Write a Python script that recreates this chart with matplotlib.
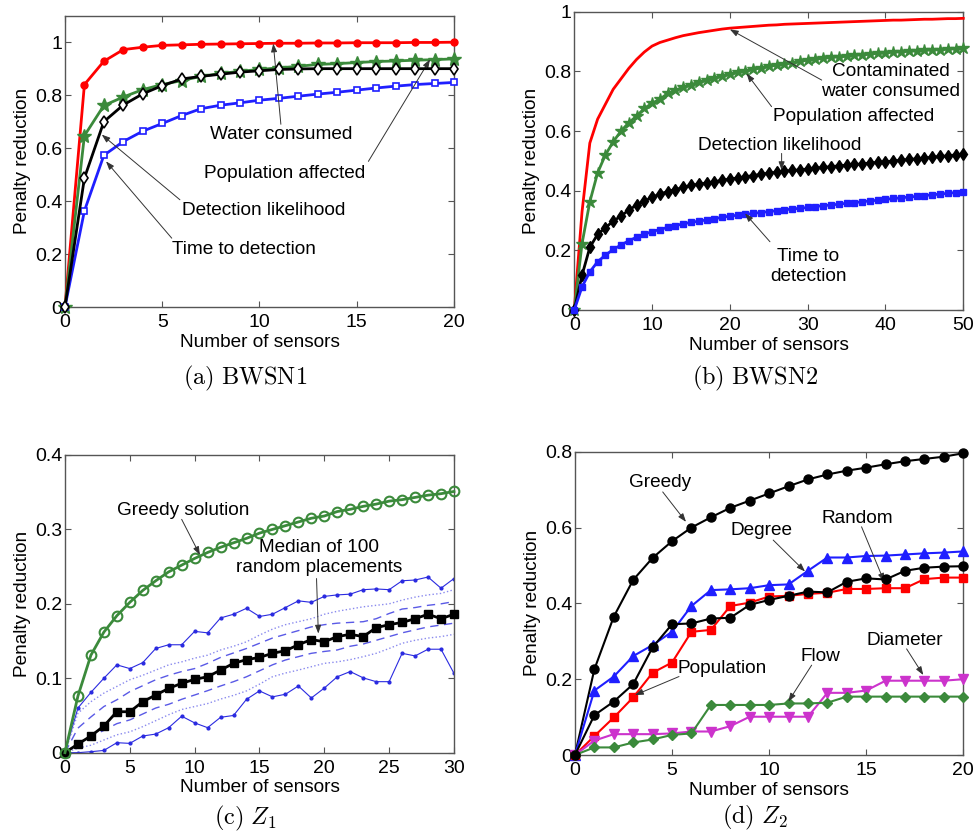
import matplotlib
matplotlib.use('Agg')
import matplotlib.pyplot as plt
import numpy as np

plt.rcParams['font.family'] = ['Liberation Sans', 'DejaVu Sans']
plt.rcParams['mathtext.fontset'] = 'cm'

# ---------------- Data ----------------
# (a) BWSN1
a_x = list(range(21))
a_water = [0, 0.84, 0.928, 0.972, 0.981, 0.988, 0.99, 0.992, 0.993, 0.994, 0.995,
           0.996, 0.996, 0.997, 0.997, 0.998, 0.998, 0.998, 0.999, 0.999, 1.0]
a_pop = [0, 0.647, 0.761, 0.793, 0.821, 0.84, 0.855, 0.871, 0.882, 0.89, 0.897,
         0.903, 0.909, 0.916, 0.919, 0.923, 0.927, 0.929, 0.932, 0.934, 0.937]
a_det = [0, 0.487, 0.70, 0.763, 0.805, 0.836, 0.861, 0.871, 0.879, 0.887, 0.892,
         0.897, 0.899, 0.9, 0.9, 0.9, 0.9, 0.9, 0.9, 0.9, 0.9]
a_time = [0, 0.363, 0.573, 0.625, 0.664, 0.693, 0.723, 0.749, 0.762, 0.771, 0.781,
          0.788, 0.796, 0.804, 0.811, 0.819, 0.827, 0.834, 0.84, 0.844, 0.848]

# (b) BWSN2
b_x = list(range(51))
b_water = [0, 0.33, 0.56, 0.64, 0.69, 0.74, 0.775, 0.81, 0.84, 0.865, 0.885,
           0.897, 0.905, 0.913, 0.92, 0.925, 0.93, 0.934, 0.938, 0.942, 0.945,
           0.947, 0.949, 0.951, 0.953, 0.955, 0.956, 0.958, 0.959, 0.96, 0.961,
           0.962, 0.963, 0.964, 0.965, 0.966, 0.967, 0.968, 0.969, 0.97, 0.971,
           0.972, 0.972, 0.973, 0.974, 0.975, 0.975, 0.976, 0.977, 0.977, 0.978]
b_pop = [0, 0.223, 0.363, 0.46, 0.52, 0.564, 0.6, 0.628, 0.65, 0.676, 0.693,
         0.707, 0.726, 0.737, 0.747, 0.756, 0.764, 0.771, 0.778, 0.785, 0.791,
         0.797, 0.802, 0.807, 0.812, 0.817, 0.821, 0.825, 0.829, 0.834, 0.838,
         0.841, 0.844, 0.847, 0.849, 0.851, 0.854, 0.856, 0.858, 0.861, 0.863,
         0.865, 0.866, 0.868, 0.869, 0.871, 0.872, 0.873, 0.875, 0.876, 0.877]
b_det = [0, 0.117, 0.21, 0.254, 0.276, 0.298, 0.315, 0.335, 0.352, 0.365, 0.378,
         0.389, 0.397, 0.404, 0.411, 0.418, 0.422, 0.426, 0.43, 0.435, 0.439,
         0.443, 0.447, 0.451, 0.455, 0.459, 0.462, 0.465, 0.468, 0.47, 0.473,
         0.476, 0.478, 0.481, 0.483, 0.486, 0.488, 0.49, 0.493, 0.495, 0.497,
         0.5, 0.502, 0.505, 0.507, 0.51, 0.512, 0.515, 0.517, 0.52, 0.523]
b_time = [0, 0.078, 0.128, 0.162, 0.184, 0.203, 0.218, 0.232, 0.244, 0.254, 0.263,
          0.27, 0.277, 0.283, 0.289, 0.294, 0.298, 0.302, 0.306, 0.311, 0.315,
          0.318, 0.321, 0.324, 0.327, 0.33, 0.333, 0.336, 0.339, 0.341, 0.344,
          0.347, 0.35, 0.352, 0.355, 0.358, 0.36, 0.363, 0.366, 0.368, 0.371,
          0.374, 0.376, 0.379, 0.381, 0.384, 0.386, 0.389, 0.391, 0.394, 0.397]

# (c) Z1
c_x = list(range(31))
c_greedy = [0, 0.0761, 0.131, 0.162, 0.184, 0.202, 0.218, 0.231, 0.243, 0.252, 0.261,
            0.269, 0.276, 0.282, 0.288, 0.295, 0.3, 0.305, 0.31, 0.315, 0.318,
            0.324, 0.327, 0.331, 0.334, 0.338, 0.34, 0.343, 0.346, 0.348, 0.351]
c_median = [0, 0.0116, 0.0224, 0.0358, 0.055, 0.055, 0.0685, 0.0775, 0.0864, 0.0932, 0.0985,
            0.102, 0.111, 0.12, 0.125, 0.128, 0.1335, 0.137, 0.145, 0.152, 0.149,
            0.156, 0.159, 0.156, 0.168, 0.172, 0.175, 0.18, 0.186, 0.18, 0.186]
c_max = [0, 0.06, 0.081, 0.1, 0.118, 0.113, 0.121, 0.14, 0.145, 0.145, 0.163,
         0.161, 0.181, 0.186, 0.194, 0.183, 0.186, 0.195, 0.204, 0.202, 0.21,
         0.212, 0.213, 0.219, 0.22, 0.219, 0.231, 0.232, 0.236, 0.221, 0.234]
c_min = [0, 0.0, 0.0013, 0.003, 0.0134, 0.0125, 0.0224, 0.025, 0.0336, 0.049, 0.04,
         0.0336, 0.0475, 0.05, 0.0717, 0.083, 0.075, 0.0785, 0.0896, 0.0735, 0.0868,
         0.102, 0.109, 0.1005, 0.0954, 0.0954, 0.1335, 0.13, 0.139, 0.139, 0.1066]
c_dash_hi = [0, 0.033, 0.048, 0.062, 0.071, 0.082, 0.09, 0.098, 0.104, 0.109, 0.113,
             0.12, 0.128, 0.134, 0.14, 0.147, 0.154, 0.159, 0.164, 0.169, 0.172,
             0.174, 0.175, 0.176, 0.18, 0.187, 0.193, 0.195, 0.198, 0.2, 0.203]
c_dot_hi = [0, 0.053, 0.0685, 0.08, 0.089, 0.098, 0.104, 0.111, 0.118, 0.122, 0.127,
            0.131, 0.138, 0.143, 0.149, 0.158, 0.166, 0.172, 0.176, 0.18, 0.186,
            0.19, 0.193, 0.196, 0.198, 0.2, 0.205, 0.209, 0.212, 0.214, 0.219]
c_dash_lo = [0, 0.0125, 0.0215, 0.03, 0.039, 0.044, 0.052, 0.06, 0.065, 0.0717, 0.0775,
             0.0833, 0.0896, 0.0954, 0.102, 0.11, 0.118, 0.1245, 0.129, 0.1335, 0.136,
             0.138, 0.143, 0.146, 0.151, 0.156, 0.161, 0.165, 0.169, 0.1715, 0.174]
c_dot_lo = [0, 0.006, 0.01, 0.017, 0.024, 0.028, 0.035, 0.043, 0.051, 0.058, 0.062,
            0.066, 0.072, 0.077, 0.083, 0.092, 0.102, 0.107, 0.111, 0.1155, 0.12,
            0.122, 0.125, 0.129, 0.1335, 0.14, 0.147, 0.151, 0.154, 0.156, 0.159]

# (d) Z2
d_x = list(range(21))
d_greedy = [0, 0.226, 0.365, 0.462, 0.52, 0.564, 0.6, 0.627, 0.652, 0.671, 0.69,
            0.709, 0.727, 0.74, 0.75, 0.758, 0.767, 0.775, 0.781, 0.787, 0.796]
d_degree = [0, 0.17, 0.207, 0.261, 0.29, 0.325, 0.393, 0.435, 0.437, 0.44, 0.448,
            0.45, 0.486, 0.521, 0.521, 0.525, 0.526, 0.529, 0.532, 0.534, 0.537]
d_random = [0, 0.105, 0.141, 0.187, 0.284, 0.345, 0.347, 0.36, 0.362, 0.396, 0.409,
            0.42, 0.431, 0.429, 0.457, 0.466, 0.463, 0.486, 0.494, 0.497, 0.498]
d_population = [0, 0.05, 0.099, 0.152, 0.217, 0.244, 0.325, 0.33, 0.393, 0.402, 0.418,
                0.42, 0.425, 0.428, 0.438, 0.438, 0.44, 0.44, 0.464, 0.468, 0.468]
d_flow = [0, 0.02, 0.02, 0.033, 0.041, 0.053, 0.057, 0.132, 0.132, 0.132, 0.132,
          0.136, 0.136, 0.138, 0.154, 0.154, 0.154, 0.154, 0.154, 0.154, 0.154]
d_diameter = [0, 0.038, 0.055, 0.055, 0.055, 0.057, 0.062, 0.062, 0.076, 0.101, 0.101,
              0.101, 0.101, 0.164, 0.164, 0.17, 0.196, 0.196, 0.196, 0.196, 0.2]

# tick labels
a_yticks = [0, 0.2, 0.4, 0.6, 0.8, 1.0]
a_yticklabels = ['0', '0.2', '0.4', '0.6', '0.8', '1']
a_xticks = [0, 5, 10, 15, 20]
b_xticks = [0, 10, 20, 30, 40, 50]
c_xticks = [0, 5, 10, 15, 20, 25, 30]
c_yticks = [0, 0.1, 0.2, 0.3, 0.4]
c_yticklabels = ['0', '0.1', '0.2', '0.3', '0.4']
d_yticks = [0, 0.2, 0.4, 0.6, 0.8]
d_yticklabels = ['0', '0.2', '0.4', '0.6', '0.8']

GREEN = '#3b8a3b'
SPINE = '#555555'
FS = 13.7
TFS = 14

fig = plt.figure(figsize=(9.74, 8.35), dpi=100)
axa = fig.add_axes([0.0667, 0.6323, 0.3994, 0.3489])
axb = fig.add_axes([0.5896, 0.6287, 0.3994, 0.3572])
axc = fig.add_axes([0.0667, 0.0986, 0.3994, 0.3565])
axd = fig.add_axes([0.5903, 0.0958, 0.3987, 0.3632])


def style(ax, xlim, ylim, xticks, yticks, ylabels):
    ax.set_xlim(*xlim)
    ax.set_ylim(*ylim)
    ax.set_xticks(xticks)
    ax.set_xticklabels([str(t) for t in xticks])
    ax.set_yticks(yticks)
    ax.set_yticklabels(ylabels)
    ax.tick_params(direction='in', top=True, right=True, length=4, width=0.8,
                   color=SPINE, labelsize=TFS, pad=2)
    ax.tick_params(axis='x', pad=5)
    for s in ax.spines.values():
        s.set_color(SPINE)
        s.set_linewidth(1.0)
    ax.set_xlabel('Number of sensors', fontsize=FS, labelpad=2)
    ax.set_ylabel('Penalty reduction', fontsize=FS, labelpad=3)


def note(ax, text, tx, ty, tail, head, **kw):
    ax.text(tx, ty, text, fontsize=FS, ha='center', va='center', **kw)
    ax.annotate('', xy=head, xytext=tail,
                arrowprops=dict(arrowstyle='-|>,head_length=0.5,head_width=0.18',
                                color='#333333', lw=0.7, shrinkA=0, shrinkB=0))


# ---------- (a) ----------
ax = axa
ax.plot(a_x, a_water, '-o', color='red', lw=2, ms=5, mfc='red', mec='red', clip_on=False, zorder=3)
ax.plot(a_x, a_pop, '-*', color=GREEN, lw=2, ms=10, mfc=GREEN, mec=GREEN, clip_on=False, zorder=3)
ax.plot(a_x, a_det, '-d', color='black', lw=2, ms=6, mfc='white', mec='black', mew=1.2, clip_on=False, zorder=4)
ax.plot(a_x, a_time, '-s', color='#1f1fff', lw=2, ms=5, mfc='white', mec='#1f1fff', mew=1.2, clip_on=False, zorder=3)
style(ax, (0, 20), (0, 1.1), a_xticks, a_yticks, a_yticklabels)
note(ax, 'Water consumed', 11.14, 0.651, (11.1, 0.69), (10.71, 0.995))
note(ax, 'Population affected', 11.28, 0.506, (15.6, 0.55), (18.77, 0.935))
note(ax, 'Detection likelihood', 10.2, 0.364, (5.91, 0.405), (1.89, 0.651))
note(ax, 'Time to detection', 9.22, 0.218, (5.49, 0.26), (2.11, 0.55))

# ---------- (b) ----------
ax = axb
ax.plot(b_x, b_water, '-', color='red', lw=2, clip_on=False, zorder=3)
ax.plot(b_x, b_pop, '-*', color=GREEN, lw=2, ms=9, mfc=GREEN, mec=GREEN, clip_on=False, zorder=3)
ax.plot(b_x, b_det, '-d', color='black', lw=2, ms=6, mfc='black', mec='black', clip_on=False, zorder=3)
ax.plot(b_x, b_time, '-s', color='#1f1fff', lw=2, ms=4.5, mfc='#1f1fff', mec='#1f1fff', clip_on=False, zorder=3)
style(ax, (0, 50), (0, 1.0), b_xticks, a_yticks, a_yticklabels)
note(ax, 'Contaminated\nwater consumed', 40.66, 0.765, (31.8, 0.771), (20.0, 0.941), linespacing=1.25)
note(ax, 'Population affected', 35.86, 0.648, (25.36, 0.682), (22.15, 0.793))
note(ax, 'Detection likelihood', 26.35, 0.553, (26.65, 0.525), (26.65, 0.469))
note(ax, 'Time to\ndetection', 30.08, 0.147, (25.15, 0.229), (21.94, 0.324), linespacing=1.25)

# ---------- (c) ----------
ax = axc
ax.plot(c_x, c_max, '-', color='#2a2ae0', lw=0.8, marker='.', ms=4, zorder=2)
ax.plot(c_x, c_min, '-', color='#2a2ae0', lw=0.8, marker='.', ms=4, zorder=2)
ax.plot(c_x, c_dot_hi, ':', color='#8a8aee', lw=1.0, zorder=2)
ax.plot(c_x, c_dot_lo, ':', color='#8a8aee', lw=1.0, zorder=2)
ax.plot(c_x, c_dash_hi, '--', color='#5a5ae6', lw=1.0, dashes=(6, 4), zorder=2)
ax.plot(c_x, c_dash_lo, '--', color='#5a5ae6', lw=1.0, dashes=(6, 4), zorder=2)
ax.plot(c_x, c_median, '-s', color='black', lw=2, ms=5.5, mfc='black', mec='black', clip_on=False, zorder=3)
ax.plot(c_x, c_greedy, '-o', color=GREEN, lw=2, ms=7, mfc='none', mec=GREEN, mew=1.5, clip_on=False, zorder=3)
style(ax, (0, 30), (0, 0.4), c_xticks, c_yticks, c_yticklabels)
note(ax, 'Greedy solution', 9.13, 0.326, (9.0, 0.3135), (10.41, 0.2656))
note(ax, 'Median of 100\nrandom placements', 19.6, 0.262, (19.4, 0.234), (19.54, 0.16), linespacing=1.25)

# ---------- (d) ----------
ax = axd
ax.plot(d_x, d_greedy, '-o', color='black', lw=1.5, ms=6.5, mfc='black', clip_on=False, zorder=3)
ax.plot(d_x, d_degree, '-^', color='#1f1fff', lw=1.5, ms=6.5, mfc='#1f1fff', clip_on=False, zorder=3)
ax.plot(d_x, d_population, '-s', color='red', lw=1.5, ms=5.5, mfc='red', clip_on=False, zorder=3)
ax.plot(d_x, d_random, '-o', color='black', lw=1.5, ms=6.5, mfc='black', clip_on=False, zorder=4)
ax.plot(d_x, d_diameter, '-v', color='#cc33cc', lw=1.5, ms=6.5, mfc='#cc33cc', clip_on=False, zorder=3)
ax.plot(d_x, d_flow, '-D', color=GREEN, lw=1.5, ms=5, mfc=GREEN, clip_on=False, zorder=3)
style(ax, (0, 20), (0, 0.8), a_xticks, d_yticks, d_yticklabels)
note(ax, 'Greedy', 4.38, 0.719, (4.52, 0.694), (5.72, 0.615))
note(ax, 'Degree', 9.61, 0.592, (10.21, 0.567), (11.85, 0.484))
note(ax, 'Random', 14.56, 0.624, (14.76, 0.602), (15.93, 0.457))
note(ax, 'Population', 7.6, 0.229, (5.36, 0.207), (3.09, 0.158))
note(ax, 'Flow', 12.65, 0.259, (12.19, 0.237), (10.99, 0.141))
note(ax, 'Diameter', 17.0, 0.303, (17.08, 0.28), (17.94, 0.211))

# captions
fig.text(0.2515, 0.547, r'$\mathrm{(a)\ BWSN1}$', fontsize=17.5, ha='center', va='center')
fig.text(0.775, 0.547, r'$\mathrm{(b)\ BWSN2}$', fontsize=17.5, ha='center', va='center')
fig.text(0.2515, 0.020, r'$\mathrm{(c)}\ Z_1$', fontsize=17.5, ha='center', va='center')
fig.text(0.7746, 0.021, r'$\mathrm{(d)}\ Z_2$', fontsize=17.5, ha='center', va='center')

fig.savefig('out.png', dpi=100)
